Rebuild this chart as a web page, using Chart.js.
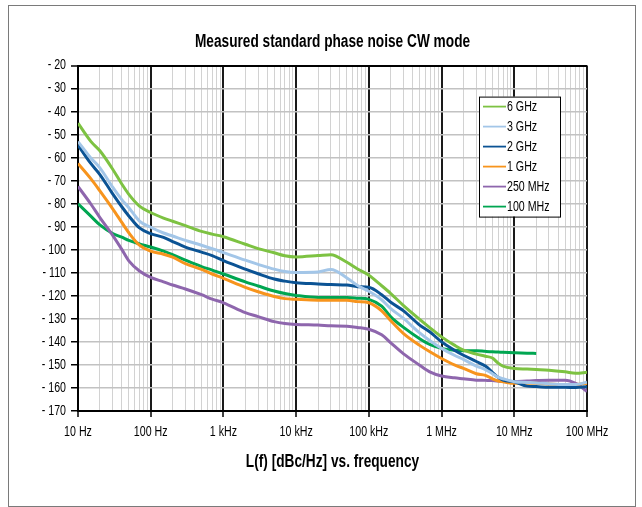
<!DOCTYPE html>
<html>
<head>
<meta charset="utf-8">
<script src="https://cdn.jsdelivr.net/npm/chart.js@4.4.1/dist/chart.umd.min.js"></script>
<style>
  html, body { margin: 0; padding: 0; background: #fff; }
  #wrap { position: relative; width: 642px; height: 507px; }
  #frame { position: absolute; left: 8px; top: 5px; width: 626px; height: 500px; border: 1px solid #7a7a7a; pointer-events: none; }
</style>
</head>
<body>
<div id="wrap">
  <canvas id="noiseChart" width="642" height="507"></canvas>
  <div id="frame"></div>
</div>
<script>
// Offset frequencies (Hz)
const freqs = [10, 15, 20, 30, 40, 50, 70, 100, 150, 200, 300, 500, 700,
  1e3, 2e3, 3e3, 5e3, 7e3, 1e4, 2e4, 3e4, 5e4, 7e4, 1e5, 1.5e5, 2e5, 3e5, 5e5, 7e5,
  1e6, 1.5e6, 2e6, 3e6, 4e6, 5e6, 6e6, 7e6, 1e7, 1.5e7, 2e7, 3e7, 5e7, 7e7, 1e8];

// L(f) in dBc/Hz
const noise6G = [-45, -52.9, -57, -65, -71.4, -75.9, -81, -83.8, -86.2, -87.6, -89.5, -92, -93.2,
  -94.3, -97.6, -99.5, -101.3, -102.6, -103.1, -102.5, -102.1, -105.4, -108.3, -111, -115.6, -119, -124.2, -130.2, -134,
  -137.8, -141.4, -143.6, -145.3, -146.2, -147, -149.2, -150.5, -151.5, -151.8, -152, -152.3, -153, -153.6, -153.2];
const noise3G = [-53, -60.1, -64.4, -72.8, -78.2, -81.7, -87.5, -90.2, -92.7, -94, -95.9, -98, -99.5,
  -101.2, -104.5, -106.3, -108.4, -109.4, -109.8, -109.6, -108.5, -112.2, -115.5, -118, -121.7, -125.5, -129.8, -136.1, -139.6,
  -142.8, -145.8, -147.6, -150.5, -152, -153.8, -155.3, -156, -157.3, -157.6, -157.8, -158.2, -158.5, -158.5, -157.5];
const noise2G = [-54.5, -62.5, -67.3, -75.7, -81.3, -85.3, -90.5, -93, -94.6, -96.4, -98.8, -101, -102.5,
  -104.7, -108.4, -110.4, -112.7, -113.6, -114.3, -114.8, -115.1, -115.3, -116, -116.3, -119.5, -122.8, -126.5, -132.7, -135.8,
  -140, -143.6, -145.8, -148.5, -150.5, -153.2, -155.4, -156.6, -157.3, -159.2, -159.4, -159.7, -159.7, -159.8, -159.5];
const noise1G = [-62.5, -69.1, -74.4, -82.2, -88.1, -92.6, -98, -100.6, -101.9, -103.2, -106, -108.5, -110.5,
  -112.4, -116.3, -118.2, -120.3, -121.2, -121.5, -121.9, -121.9, -121.9, -122.5, -123, -126.5, -130.8, -136.4, -141.5, -144.4,
  -147.2, -150, -151.5, -153.8, -154.5, -156, -157, -157.3, -158, -158, -158, -158.3, -158.6, -158.5, -158];
const noise250M = [-72.5, -80.1, -86, -93.7, -99.8, -104.8, -109.2, -112, -113.9, -115.3, -117, -119.5, -121.4,
  -123, -127.3, -129, -131.2, -132, -132.4, -132.7, -133, -133.2, -133.7, -134.5, -136.9, -140.4, -145.2, -150.1, -153.1,
  -154.8, -155.6, -156, -156.6, -156.7, -156.8, -157, -157.2, -157.3, -157, -156.8, -156.6, -156.6, -158, -161.5];
const noise100M = [-80, -85.4, -89.2, -92.9, -94.5, -95.9, -97.4, -98.8, -100.6, -102.1, -104.5, -107.3, -108.8,
  -110.5, -113.9, -115.7, -117.9, -119, -119.8, -120.7, -120.7, -120.7, -121, -121.5, -124.5, -129.1, -133.7, -138.6, -141.2,
  -142.8, -143.6, -143.8, -143.8, -144.1, -144.3, -144.4, -144.5, -144.7, -144.9, -145, null, null, null, null];

const seriesNames = ['6 GHz', '3 GHz', '2 GHz', '1 GHz', '250 MHz', '100 MHz'];
const seriesColors = ['#7dc242', '#a3c6e8', '#0b5394', '#f7941d', '#8e66ad', '#00a651'];
const seriesValues = [noise6G, noise3G, noise2G, noise1G, noise250M, noise100M];

const decades = [10, 100, 1e3, 1e4, 1e5, 1e6, 1e7, 1e8];
const decadeLabels = ['10 Hz', '100 Hz', '1 kHz', '10 kHz', '100 kHz', '1 MHz', '10 MHz', '100 MHz'];

const FONT = "'Liberation Sans', Arial, sans-serif";
const NARROW = 0.76; // no condensed face installed, squeeze text horizontally instead
Chart.defaults.font.family = FONT;
Chart.defaults.color = '#000';

// grid lines at 1..9 x each decade
const gridFreqs = [];
decades.forEach((d, i) => {
    if (i === decades.length - 1) { gridFreqs.push(d); return; }
    for (let m = 1; m < 10; m++) gridFreqs.push(d * m);
});
const isDecade = v => decades.includes(v);

// Legend with a box, drawn inside the plot
const boxedLegend = {
    id: 'boxedLegend',
    afterDatasetsDraw(chart) {
        const { ctx, chartArea } = chart;
        const x = chartArea.right - 108, y = chartArea.top + 31;
        ctx.save();
        ctx.fillStyle = '#fff';
        ctx.fillRect(x, y, 81, 120);
        ctx.strokeStyle = '#000';
        ctx.lineWidth = 1;
        ctx.strokeRect(x + 0.5, y + 0.5, 81, 120);
        ctx.font = '14px ' + FONT;
        ctx.textBaseline = 'middle';
        ctx.textAlign = 'left';
        chart.data.datasets.forEach((ds, i) => {
            const cy = y + 10 + i * 20;
            ctx.strokeStyle = ds.borderColor;
            ctx.lineWidth = 1.8;
            ctx.beginPath();
            ctx.moveTo(x + 4, cy);
            ctx.lineTo(x + 27, cy);
            ctx.stroke();
            ctx.fillStyle = '#000';
            ctx.fillText(ds.label, x + 28, cy + 0.5);
        });
        ctx.restore();
    }
};

const ctx = document.getElementById('noiseChart').getContext('2d');
const rawFillText = ctx.fillText;
ctx.fillText = function (text, x, y, maxWidth) {
    const w = this.measureText(text).width * NARROW;
    return rawFillText.call(this, text, x, y, maxWidth === undefined ? w : Math.min(maxWidth, w));
};

new Chart(ctx, {
    type: 'line',
    data: {
        datasets: seriesNames.map((name, i) => ({
            label: name,
            data: freqs.map((f, j) => ({ x: f, y: seriesValues[i][j] })),
            borderColor: seriesColors[i],
            backgroundColor: seriesColors[i],
            borderWidth: 3,
            pointRadius: 0,
            cubicInterpolationMode: 'monotone',
            spanGaps: false
        }))
    },
    options: {
        responsive: false,
        animation: false,
        layout: { padding: { left: 10, right: 55, top: 0, bottom: 20 } },
        plugins: {
            legend: { display: false },
            tooltip: { enabled: false },
            title: {
                display: true,
                text: 'Measured standard phase noise CW mode',
                color: '#000',
                fullSize: false,
                font: { size: 18, weight: 'bold' },
                padding: { top: 31, bottom: 13 }
            }
        },
        scales: {
            x: {
                type: 'logarithmic',
                min: 10,
                max: 1e8,
                afterBuildTicks: axis => { axis.ticks = gridFreqs.map(v => ({ value: v })); },
                afterFit: axis => { axis.height = 76; },
                ticks: {
                    autoSkip: false,
                    maxRotation: 0,
                    padding: 7,
                    font: { size: 14 },
                    callback: v => isDecade(v) ? decadeLabels[decades.indexOf(v)] : ''
                },
                grid: {
                    color: c => isDecade(c.tick.value) ? '#1a1a1a' : '#d2d2d2',
                    lineWidth: c => isDecade(c.tick.value) ? 2 : 1,
                    tickColor: c => isDecade(c.tick.value) ? '#000' : 'rgba(0,0,0,0)',
                    tickLength: 6,
                    tickWidth: 1.5
                },
                border: { color: '#000', width: 2 },
                title: {
                    display: true,
                    text: 'L(f) [dBc/Hz] vs. frequency',
                    color: '#000',
                    font: { size: 18, weight: 'bold' },
                    padding: { top: 0, bottom: 14 }
                }
            },
            y: {
                min: -170,
                max: -20,
                afterFit: axis => { axis.width = 68; },
                ticks: {
                    stepSize: 10,
                    padding: 5,
                    font: { size: 14 },
                    callback: v => '- ' + Math.abs(v)
                },
                grid: {
                    color: c => c.tick.value === -20 ? '#000' : '#c2c2c2',
                    lineWidth: c => c.tick.value === -20 ? 2 : 1.5,
                    tickColor: '#000',
                    tickLength: 7,
                    tickWidth: 1.5
                },
                border: { color: '#000', width: 2 }
            }
        }
    },
    plugins: [boxedLegend]
});
</script>
</body>
</html>
